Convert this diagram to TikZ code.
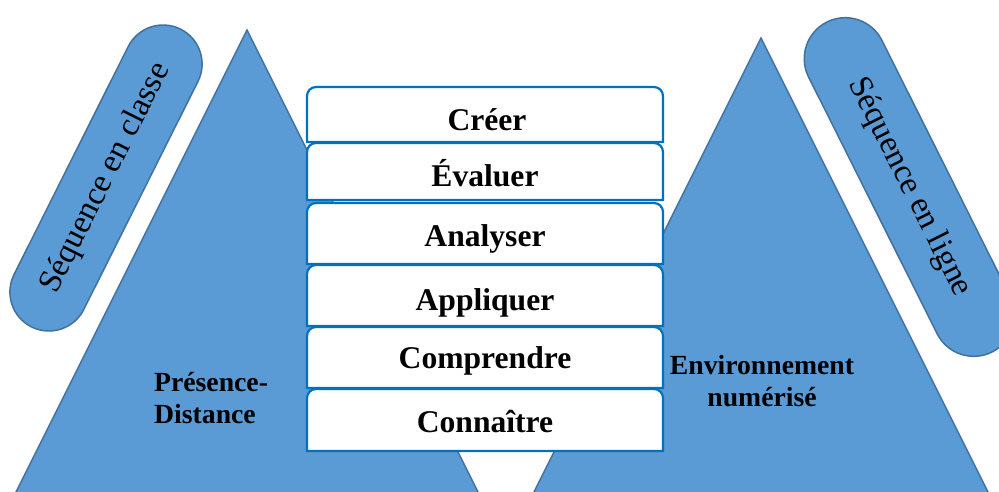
\documentclass[tikz,border=0pt]{standalone}
\usepackage{fontspec}
\setmainfont{Liberation Serif}
\usetikzlibrary{shapes.misc}
\definecolor{trifill}{HTML}{5B9BD5}
\definecolor{triline}{HTML}{41719C}
\definecolor{lvlline}{HTML}{0070C0}
\newcommand\lvlbox[2]{\path[lvl] (307,#2) -- (307,#1+9) .. controls (307,#1+4) and (311,#1) .. (316,#1) -- (654,#1) .. controls (659,#1) and (663,#1+4) .. (663,#1+9) -- (663,#2) -- cycle;}
\begin{document}
\begin{tikzpicture}[x=1pt,y=-1pt,
 tri/.style={fill=trifill,draw=triline,line width=1.5pt,line join=miter},
 pill/.style={rounded rectangle,fill=trifill,draw=triline,line width=1.5pt,inner sep=0pt,font=\fontsize{33}{40}\selectfont},
 lvl/.style={fill=white,draw=lvlline,line width=2.2pt},
 lvltext/.style={anchor=base,font=\bfseries\fontsize{31.6}{38}\selectfont,inner sep=0pt},
 trilabel/.style={font=\bfseries\fontsize{27.7}{31.5}\selectfont,inner sep=0pt}]
\useasboundingbox (0,0) rectangle (999,491);
\clip (0,0) rectangle (999,491);
% triangles
\coordinate (lapex) at (247,30);
\coordinate (lbl) at (14.5,495);
\coordinate (lbr) at (479.5,495);
\coordinate (rapex) at (761,38);
\coordinate (rbl) at (532.5,495);
\coordinate (rbr) at (989.5,495);
\path[tri] (lapex) -- (lbl) -- (lbr) -- cycle;
\path[tri] (rapex) -- (rbl) -- (rbr) -- cycle;
% pills
\node[pill, rotate=63.4, minimum width=333pt, minimum height=78pt] (classe) at (106,178) {Séquence en classe};
\node[pill, rotate=-63.4, minimum width=369pt, minimum height=82pt] (ligne) at (909.5,187) {Séquence en ligne};
% level boxes
\lvlbox{87}{142}
\node[lvltext] (creer) at (487,130) {Créer};
\lvlbox{143}{200}
\node[lvltext] (evaluer) at (485,186.7) {Évaluer};
\lvlbox{203}{264}
\node[lvltext] (analyser) at (485,246) {Analyser};
\lvlbox{265}{326}
\node[lvltext] (appliquer) at (485,310) {Appliquer};
\lvlbox{327}{388}
\node[lvltext] (comprendre) at (485,368) {Comprendre};
\lvlbox{389}{451}
\node[lvltext] (connaitre) at (485,432.7) {Connaître};
% triangle labels
\node[trilabel, align=left, anchor=base west] (pd) at (154,423) {Présence-\\Distance};
\node[trilabel, align=center, anchor=base] (en) at (762,406) {Environnement\\numérisé};
\end{tikzpicture}
\end{document}
